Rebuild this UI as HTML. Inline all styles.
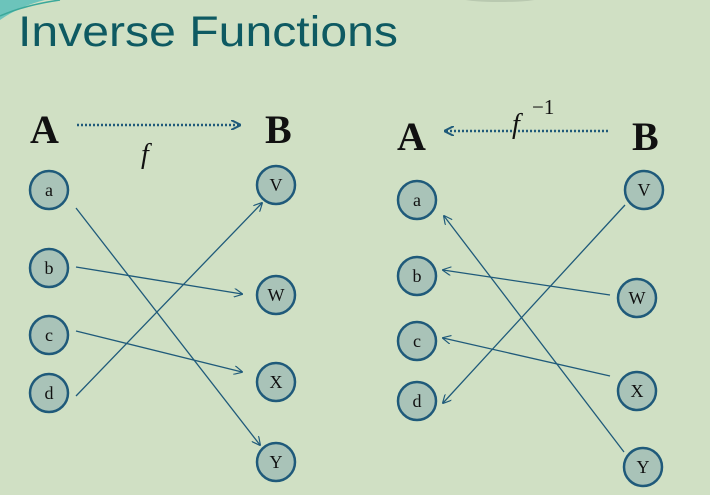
<!DOCTYPE html>
<html><head><meta charset="utf-8"><style>
html,body{margin:0;padding:0;background:#d0e0c4;}
svg{display:block;}
.t{font-family:"Liberation Serif",serif;fill:#111;}
</style></head><body>
<svg width="710" height="495" viewBox="0 0 710 495" xmlns="http://www.w3.org/2000/svg">
<defs>
<marker id="ah" viewBox="0 0 10 10" refX="9" refY="5" markerWidth="9" markerHeight="9" orient="auto" markerUnits="userSpaceOnUse">
<path d="M0,0 L10,5 L0,10" fill="none" stroke="#1f5a7a" stroke-width="1.3"/></marker>
<marker id="ah2" viewBox="0 0 10 10" refX="9" refY="5" markerWidth="10" markerHeight="10" orient="auto" markerUnits="userSpaceOnUse">
<path d="M0,0 L10,5 L0,10" fill="none" stroke="#1f5a7a" stroke-width="2"/></marker>
</defs>
<rect width="710" height="495" fill="#d0e0c4"/>
<path d="M0,20 Q20,6 45,0 L0,0 Z" fill="#6cc4bb"/>
<path d="M0,16 Q25,5 60,0" fill="none" stroke="#3aa89a" stroke-width="1.5"/>
<ellipse cx="500" cy="-2" rx="40" ry="4" fill="#b9c9b0"/>
<text x="18" y="46" font-family="Liberation Sans,sans-serif" font-size="43" fill="#0e5a62" textLength="380" lengthAdjust="spacingAndGlyphs">Inverse Functions</text>

<g>
<text class="t" x="30" y="143" font-size="40" font-weight="bold">A</text>
<text class="t" x="265" y="143" font-size="40" font-weight="bold">B</text>
<line x1="77" y1="125" x2="240" y2="125" stroke="#1f5a7a" stroke-width="2.5" stroke-dasharray="2,2" marker-end="url(#ah2)"/>
<text class="t" x="141" y="163" font-size="28" font-style="italic">f</text>
<g stroke="#1f5a7a" stroke-width="1.3" marker-end="url(#ah)">
<line x1="76" y1="208" x2="260" y2="445"/>
<line x1="76" y1="267" x2="242" y2="294"/>
<line x1="76" y1="331" x2="242" y2="372"/>
<line x1="76" y1="396" x2="262" y2="203"/>
</g>
</g>

<g>
<text class="t" x="397" y="150" font-size="40" font-weight="bold">A</text>
<text class="t" x="632" y="150" font-size="40" font-weight="bold">B</text>
<line x1="608" y1="131" x2="445" y2="131" stroke="#1f5a7a" stroke-width="2.5" stroke-dasharray="2,2" marker-end="url(#ah2)"/>
<text class="t" x="512" y="133" font-size="28" font-style="italic">f</text>
<text class="t" x="532" y="114" font-size="21">−1</text>
<g stroke="#1f5a7a" stroke-width="1.3" marker-end="url(#ah)">
<line x1="625" y1="205" x2="443" y2="403"/>
<line x1="610" y1="295" x2="443" y2="270"/>
<line x1="610" y1="376" x2="443" y2="338"/>
<line x1="624" y1="452" x2="444" y2="216"/>
</g>
</g>

<g id="nodes" font-family="Liberation Serif,serif" font-size="18" text-anchor="middle" fill="#111"></g>
</svg>
<script>
const nodeLabels=["a","b","c","d","V","W","X","Y","a","b","c","d","V","W","X","Y"];
const nodeX=[49,49,49,49,276,276,276,276,417,417,417,417,644,637,637,643];
const nodeY=[190,268,335,393,185,295,382,462,200,276,341,401,190,298,391,467];
const g=document.getElementById('nodes');
const ns="http://www.w3.org/2000/svg";
nodeLabels.forEach((l,i)=>{
 const c=document.createElementNS(ns,'circle');
 c.setAttribute('cx',nodeX[i]);c.setAttribute('cy',nodeY[i]);c.setAttribute('r',19);
 c.setAttribute('fill','#a9c3b8');c.setAttribute('stroke','#1f5a7a');c.setAttribute('stroke-width','2.5');
 
 
 g.appendChild(c);
 const t=document.createElementNS(ns,'text');
 t.setAttribute('x',nodeX[i]);t.setAttribute('y',nodeY[i]+6);
 t.textContent=l;
 
 
 g.appendChild(t);
});
</script>
</body></html>
